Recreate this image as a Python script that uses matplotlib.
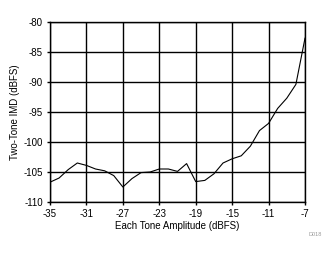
import matplotlib
matplotlib.use('Agg')
import matplotlib.pyplot as plt
import numpy as np

# data
amplitude = [-35, -34, -33, -32, -31, -30, -29, -28, -27, -26, -25, -24, -23, -22,
             -21, -20, -19, -18, -17, -16, -15, -14, -13, -12, -11, -10, -9, -8, -7]
imd = [-106.7, -106.0, -104.6, -103.5, -103.9, -104.5, -104.8, -105.6, -107.5, -106.1,
       -105.1, -105.0, -104.5, -104.5, -104.9, -103.6, -106.6, -106.4, -105.3, -103.5,
       -102.8, -102.3, -100.7, -98.1, -96.9, -94.4, -92.7, -90.4, -82.7]
x_ticks = [-35, -31, -27, -23, -19, -15, -11, -7]
y_ticks = [-110, -105, -100, -95, -90, -85, -80]

plt.rcParams['font.family'] = ['Liberation Sans', 'DejaVu Sans']
plt.rcParams['axes.unicode_minus'] = False

fig = plt.figure(figsize=(3.34, 2.54), dpi=100)
ax = fig.add_axes([50 / 334, 1 - 202 / 254, 255 / 334, 180 / 254])

ax.plot(amplitude, imd, color='black', linewidth=0.8)
ax.set_xlim(-35, -7)
ax.set_ylim(-110, -80)
ax.set_xticks(x_ticks)
ax.set_yticks(y_ticks)
ax.grid(True, color='black', linewidth=1.0)
for s in ax.spines.values():
    s.set_linewidth(1.0)
ax.tick_params(direction='out', length=2.5, width=1.0, labelsize=7, pad=2.5)

ax.set_xlabel('Each Tone Amplitude (dBFS)', fontsize=7)
ax.set_ylabel('Two-Tone IMD (dBFS)', fontsize=7)
ax.xaxis.set_label_coords(0.5, -0.133)
ax.yaxis.set_label_coords(-0.137, 0.5)
ax.xaxis.label.set_va('center')
ax.yaxis.label.set_va('center')

fig.text(0.945, 0.075, 'D018', fontsize=4, color='#999999', ha='center', va='center')

fig.savefig('out.png', dpi=100)
